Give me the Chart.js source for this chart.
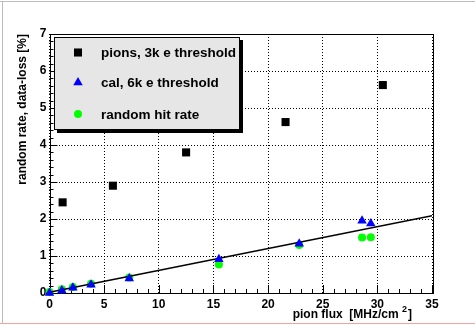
<!DOCTYPE html>
<html>
<head>
<meta charset="utf-8">
<script src="https://cdn.jsdelivr.net/npm/chart.js@4"></script>
<style>
  body { margin: 0; background: #fff; }
  #wrap { width: 475px; height: 325px; position: relative; }
</style>
</head>
<body>
<div id="wrap"><canvas id="lossChart"></canvas></div>
<script>
// data
const pionFlux = [1.2, 5.8, 12.5, 21.6, 30.5];
const pionRate = [2.45, 2.9, 3.8, 4.62, 5.62];

const calFlux = [0, 1.13, 2.14, 3.8, 7.3, 15.5, 22.85, 28.6, 29.4];
const calRate = [0.0, 0.07, 0.14, 0.22, 0.39, 0.91, 1.33, 1.95, 1.88];

const randFlux = [0, 1.13, 2.14, 3.8, 7.3, 15.5, 22.85, 28.6, 29.4];
const randRate = [0.03, 0.1, 0.16, 0.25, 0.42, 0.77, 1.3, 1.5, 1.51];

const fitFlux = [0, 35];
const fitRate = [0.02, 2.09];

const legendLabels = ['pions, 3k e threshold', 'cal, 6k e threshold', 'random hit rate'];

const FONT = '"Liberation Sans", Arial, Helvetica, sans-serif';

function toPoints(xs, ys) {
    return xs.map((x, i) => ({ x: x, y: ys[i] }));
}

// background + page border lines
const pageFrame = {
    id: 'pageFrame',
    beforeDraw(chart) {
        const c = chart.ctx;
        c.save();
        c.fillStyle = '#fff';
        c.fillRect(0, 0, chart.width, chart.height);
        c.fillStyle = '#bdbdbd';
        c.fillRect(0, 1, chart.width, 1);
        c.fillRect(2, 1, 1, chart.height - 3);
        c.fillStyle = '#f4a3a3';
        c.fillRect(0, 323, chart.width, 1);
        c.restore();
    }
};

// frame + inside ticks drawn under the markers
const rootFrame = {
    id: 'rootFrame',
    beforeDatasetsDraw(chart) {
        const c = chart.ctx;
        const a = chart.chartArea;
        const xs = chart.scales.x, ys = chart.scales.y;
        c.save();
        c.strokeStyle = '#000';
        c.lineWidth = 1;
        c.strokeRect(Math.round(a.left) + 0.5, Math.round(a.top) + 0.5,
            Math.round(a.right - a.left), Math.round(a.bottom - a.top));

        c.beginPath();
        for (let v = 0; v <= 35; v++) {
            const px = Math.round(xs.getPixelForValue(v)) + 0.5;
            const len = v % 5 === 0 ? 8 : 4;
            c.moveTo(px, a.bottom);
            c.lineTo(px, a.bottom - len);
        }
        for (let k = 0; k <= 35; k++) {
            const py = Math.round(ys.getPixelForValue(k * 0.2)) + 0.5;
            const len = k % 5 === 0 ? 8 : 4;
            c.moveTo(a.left, py);
            c.lineTo(a.left + len, py);
        }
        c.stroke();
        c.restore();
    }
};

// axis titles and legend box
const rootText = {
    id: 'rootText',
    afterDatasetsDraw(chart) {
        const c = chart.ctx;
        const a = chart.chartArea;
        c.save();

        // y title
        c.fillStyle = '#000';
        c.font = 'bold 12px ' + FONT;
        c.save();
        c.translate(26, a.top);
        c.rotate(-Math.PI / 2);
        c.textAlign = 'right';
        c.textBaseline = 'alphabetic';
        c.fillText('random rate, data-loss [%]', 0, 0);
        c.restore();

        // x title with superscript
        const part1 = 'pion flux  [MHz/cm ';
        const sup = '2';
        const part3 = ']';
        c.font = 'bold 12px ' + FONT;
        const w1 = c.measureText(part1).width;
        const w3 = c.measureText(part3).width;
        c.font = 'bold 9px ' + FONT;
        const w2 = c.measureText(sup).width;
        const x0 = 412 - (w1 + w2 + w3 + 1);
        const base = 318;
        c.textAlign = 'left';
        c.font = 'bold 12px ' + FONT;
        c.fillText(part1, x0, base);
        c.font = 'bold 9px ' + FONT;
        c.fillText(sup, x0 + w1, base - 6);
        c.font = 'bold 12px ' + FONT;
        c.fillText(part3, x0 + w1 + w2 + 1, base);

        // legend box with shadow
        const L = 54, T = 37, R = 240, B = 130;
        c.fillStyle = '#000';
        c.fillRect(L + 3, B, R - L, 3);
        c.fillRect(R, T + 3, 3, B - T);
        c.fillStyle = '#e6e6e6';
        c.fillRect(L, T, R - L, B - T);
        c.strokeStyle = '#000';
        c.lineWidth = 1;
        c.strokeRect(L + 0.5, T + 0.5, R - L - 1, B - T - 1);

        const rowsY = [52.5, 82.5, 114];
        c.font = 'bold 13.5px ' + FONT;
        c.textBaseline = 'middle';
        legendLabels.forEach((txt, i) => {
            const ds = chart.data.datasets[i];
            c.fillStyle = ds.backgroundColor;
            Chart.helpers.drawPoint(c, {
                pointStyle: ds.pointStyle,
                radius: ds.pointRadius,
                rotation: 0,
                borderWidth: 0
            }, 78, rowsY[i]);
            c.fillStyle = '#000';
            c.fillText(txt, 101, rowsY[i] + 1);
        });
        c.restore();
    }
};

const ctx = document.getElementById('lossChart').getContext('2d');
const lossChart = new Chart(ctx, {
    type: 'scatter',
    data: {
        datasets: [
            {
                label: legendLabels[0],
                data: toPoints(pionFlux, pionRate),
                pointStyle: 'rect',
                pointRadius: 5.7,
                backgroundColor: '#000',
                borderWidth: 0,
                clip: false,
                order: 3
            },
            {
                label: legendLabels[1],
                data: toPoints(calFlux, calRate),
                pointStyle: 'triangle',
                pointRadius: 5.5,
                backgroundColor: '#0000ff',
                borderWidth: 0,
                clip: false,
                order: 0
            },
            {
                label: legendLabels[2],
                data: toPoints(randFlux, randRate),
                pointStyle: 'circle',
                pointRadius: 4,
                backgroundColor: '#00ff00',
                borderWidth: 0,
                clip: false,
                order: 2
            },
            {
                label: 'fit',
                data: toPoints(fitFlux, fitRate),
                showLine: true,
                pointRadius: 0,
                borderColor: '#000',
                borderWidth: 1.5,
                order: 1
            }
        ]
    },
    options: {
        responsive: true,
        maintainAspectRatio: false,
        animation: false,
        layout: { padding: { left: 0, top: 34, right: 43, bottom: 0 } },
        plugins: {
            legend: { display: false },
            tooltip: { enabled: false }
        },
        scales: {
            x: {
                type: 'linear',
                min: 0,
                max: 35,
                afterFit: s => { s.height = 32; },
                ticks: {
                    stepSize: 5,
                    padding: 4,
                    color: '#000',
                    font: { family: FONT, size: 12, weight: 'bold' }
                },
                grid: { color: '#000', lineWidth: 1, drawTicks: false },
                border: { display: false, dash: [1, 2] }
            },
            y: {
                type: 'linear',
                min: 0,
                max: 7,
                afterFit: s => { s.width = 49.5; },
                ticks: {
                    stepSize: 1,
                    padding: 3,
                    color: '#000',
                    font: { family: FONT, size: 12, weight: 'bold' }
                },
                grid: { color: '#000', lineWidth: 1, drawTicks: false },
                border: { display: false, dash: [1, 2] }
            }
        }
    },
    plugins: [pageFrame, rootFrame, rootText]
});
</script>
</body>
</html>
